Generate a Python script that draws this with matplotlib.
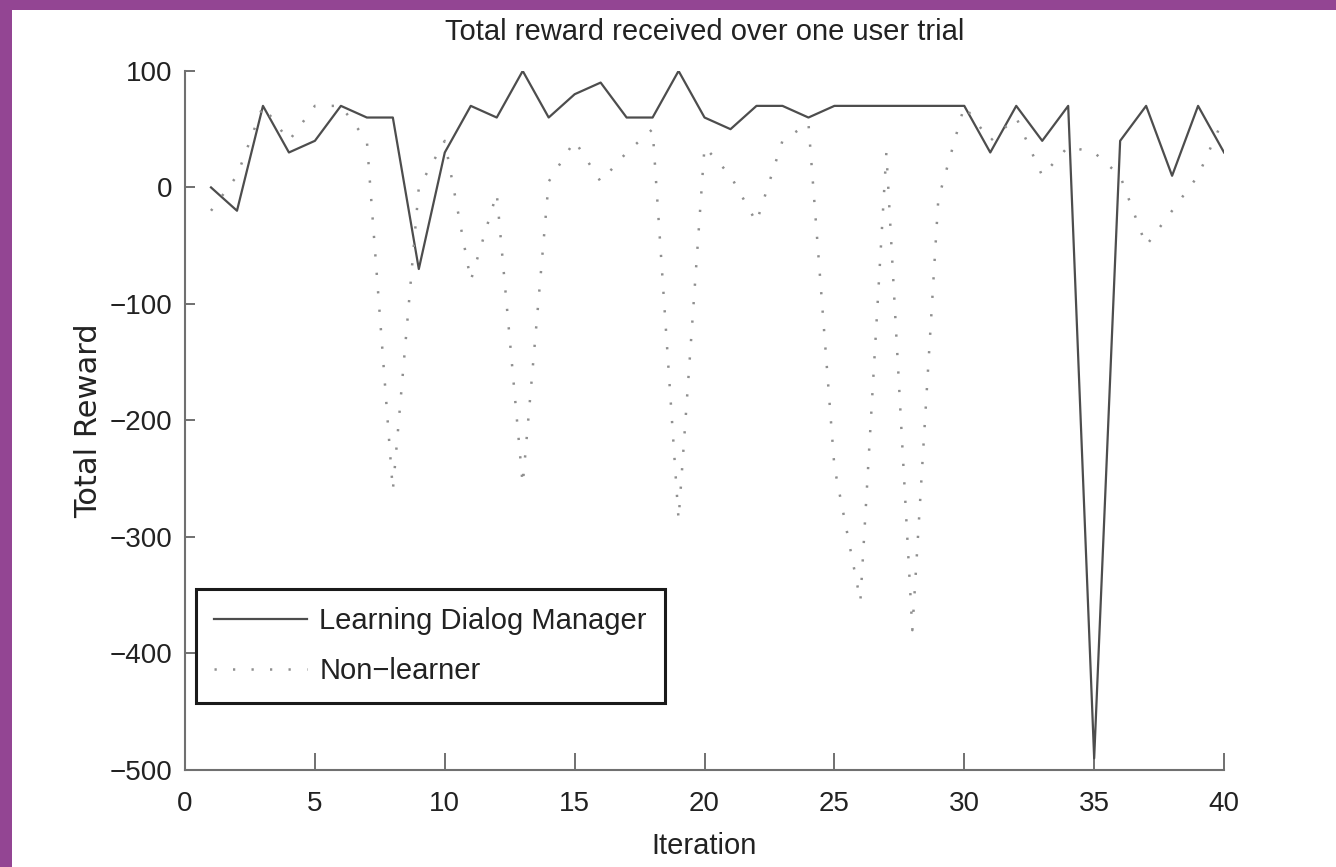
import matplotlib
matplotlib.use('Agg')
import matplotlib.pyplot as plt
from matplotlib.patches import Rectangle

# valores
iteracoes = list(range(1, 41))
learning = [0, -20, 70, 30, 40, 70, 60, 60, -70, 30,
            70, 60, 100, 60, 80, 90, 60, 60, 100, 60,
            50, 70, 70, 60, 70, 70, 70, 70, 70, 70,
            30, 70, 40, 70, -490, 40, 70, 10, 70, 30]
non_learner = [-20, 10, 70, 40, 70, 70, 40, -260, 0, 40,
               -80, -5, -255, 5, 40, 5, 30, 50, -285, 35,
               10, -30, 40, 55, -240, -355, 30, -380, -10, 70,
               40, 60, 10, 35, 30, 10, -50, -20, 10, 60]
xticks = [0, 5, 10, 15, 20, 25, 30, 35, 40]
yticks = [100, 0, -100, -200, -300, -400, -500]

plt.rcParams['font.family'] = ['Liberation Sans Narrow', 'Liberation Sans', 'DejaVu Sans']

fig = plt.figure(figsize=(13.36, 8.67), dpi=100)
fig.patch.set_facecolor('#934593')
fig.add_artist(Rectangle((12 / 1336, 0), 1 - 12 / 1336, (867 - 10) / 867,
                         transform=fig.transFigure, facecolor='white',
                         edgecolor='none', zorder=-10))

ax = fig.add_axes([0.1385, 0.1119, 0.7777, 0.8063])
ax.set_facecolor('white')

ax.plot(iteracoes, learning, color='#4d4d4d', linewidth=1.6,
        label='Learning Dialog Manager')
ax.plot(iteracoes, non_learner, color='#8f8f8f', linewidth=1.8,
        linestyle=(0, (0.9, 6.5)), label='Non\u2212learner')

ax.set_xlim(0, 40)
ax.set_ylim(-500, 100)
ax.set_xticks(xticks)
ax.set_yticks(yticks)

for s in ['top', 'right']:
    ax.spines[s].set_visible(False)
for s in ['left', 'bottom']:
    ax.spines[s].set_color('#707070')
    ax.spines[s].set_linewidth(1.5)

ax.tick_params(axis='both', direction='in', colors='#707070', width=1.4,
               labelcolor='#222222', labelsize=20)
ax.tick_params(axis='x', length=12, pad=15)
ax.tick_params(axis='y', length=7, pad=9)

ax.set_title('Total reward received over one user trial', fontsize=21,
             color='#222222', pad=22)
ax.set_xlabel('Iteration', fontsize=21, color='#222222', labelpad=11)
ax.set_ylabel('Total Reward', fontsize=22, color='#222222',
              family=['DejaVu Sans'])
ax.yaxis.set_label_coords(-0.079, 0.5)

leg = ax.legend(loc='lower left', bbox_to_anchor=(0.0106, 0.0959),
                borderaxespad=0, fontsize=21, handlelength=3.2,
                handletextpad=0.4, borderpad=0.62, labelspacing=0.75,
                fancybox=False, framealpha=1, edgecolor='#1a1a1a')
leg.get_frame().set_linewidth(2.2)
for t in leg.get_texts():
    t.set_color('#222222')

fig.savefig('out.png', dpi=100, facecolor=fig.get_facecolor())
